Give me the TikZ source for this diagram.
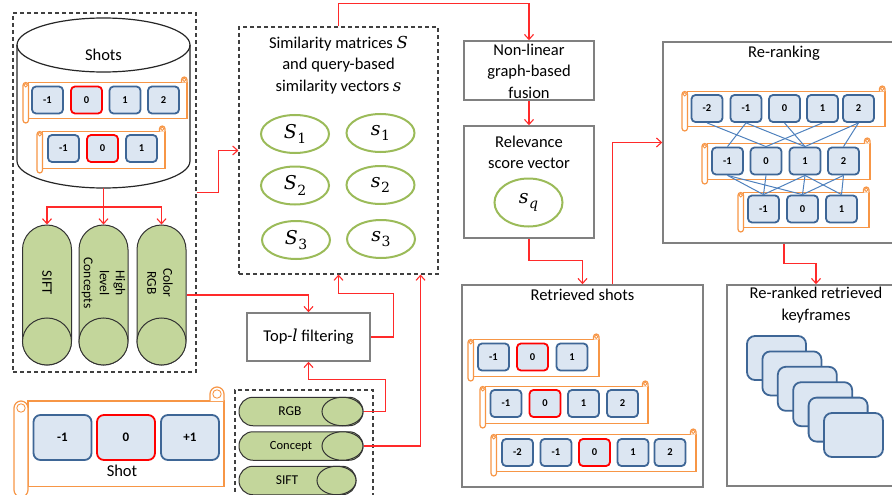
\documentclass[tikz,border=0pt]{standalone}
\usepackage{fontspec}
\setmainfont{Carlito}
\newfontfamily\cmbf{DejaVu Serif}
\usetikzlibrary{arrows.meta,shapes.geometric,calc}
\definecolor{redc}{HTML}{FF2A2A}
\definecolor{orc}{HTML}{F79646}
\definecolor{kfill}{HTML}{DCE6F2}
\definecolor{kblue}{HTML}{3E6696}
\definecolor{grn}{HTML}{9BBB59}
\definecolor{pillg}{HTML}{C3D69B}
\definecolor{gbox}{HTML}{808080}
\definecolor{lblue}{HTML}{4F81BD}
\definecolor{dgray}{HTML}{404040}
\newcommand\mvar[1]{{\cmbf\itshape #1}}
\newcommand\mvs[2]{{\cmbf\itshape #1}\kern0.5pt\raisebox{-0.28em}{\cmbf\fontsize{14}{14}\selectfont #2}}
\tikzset{
  scr/.style={draw=orc, fill=white, line width=1.2pt},
  kb/.style={draw=kblue, fill=kfill, line width=1.8pt, rounded corners=4pt, minimum width=31pt, minimum height=27pt, inner sep=0pt, font=\bfseries\fontsize{10.5}{10.5}\selectfont},
  kbr/.style={kb, draw=red},
  kbig/.style={kb, rounded corners=7pt, minimum width=58pt, minimum height=45pt, font=\bfseries\fontsize{13}{13}\selectfont},
  kbigr/.style={kbig, draw=red},
  ttl/.style={font=\fontsize{16.5}{21.5}\selectfont, align=center, inner sep=0pt},
  dbox/.style={draw=dgray, dashed, dash pattern=on 4pt off 3pt, line width=1.1pt, inner sep=0pt},
  gboxs/.style={draw=gbox, line width=1.5pt, inner sep=0pt},
  ell/.style={ellipse, draw=grn, line width=2pt, inner sep=0pt, minimum width=68pt, minimum height=38pt, font=\fontsize{19}{19}\selectfont},
  vpill/.style={draw=black!80, fill=pillg, line width=1pt, rounded corners=24.5pt, minimum width=49pt, minimum height=140pt, inner sep=0pt},
  hpill/.style={draw=black!80, fill=pillg, line width=1pt, rounded corners=14pt, minimum height=28.5pt, inner sep=0pt},
  pillend/.style={draw=black!80, fill=pillg, line width=1pt},
  ptxt/.style={font=\fontsize{13.5}{16}\selectfont, align=center, inner sep=0pt},
  ra/.style={draw=redc, line width=1.1pt, -{Straight Barb[length=5pt,width=9pt]}},
  bl/.style={draw=lblue, line width=1pt},
  cyl/.style={draw=black!85, line width=1.2pt},
  kf/.style={draw=kblue, fill=kfill, line width=1.8pt, rounded corners=8pt, minimum width=59pt, minimum height=44pt, inner sep=0pt}
}
\newcommand\scrl[5]{%
  \pgfmathsetmacro\rcA{0.5*#5}%
  \pgfmathsetmacro\rcB{0.3*#5}%
  \draw[scr] (#1+#5,#2+#5) rectangle (#3,#4-0.75*#5);
  \draw[scr, rounded corners=\rcA pt] (#1,#4) -- (#1,#2+#5) -- (#1+#5,#2+#5) -- (#1+#5,#4) -- cycle;
  \draw[scr, rounded corners=\rcA pt] (#3-#5,#2+#5) -- (#3-#5,#2) -- (#3,#2) -- (#3,#2+#5);
  \draw[draw=orc, line width=0.9pt] (#1+0.5*#5,#2+1.5*#5) circle[radius=\rcB pt];
  \draw[draw=orc, line width=0.9pt] (#3-0.5*#5,#2+0.5*#5) circle[radius=\rcB pt];
}
\begin{document}
\begin{tikzpicture}[x=1pt,y=-1pt]
\useasboundingbox (0,0) rectangle (892,495);
\clip (0,0) rectangle (892,495);

% ---------- left dashed box with cylinder ----------
\node[dbox, minimum width=183pt, minimum height=359pt] (leftbox) at (104.5,192.5) {};
\draw[cyl, fill=white] (17,45) -- (17,161) arc[start angle=180, end angle=0, x radius=86.5, y radius=27] -- (190,45);
\draw[cyl] (103.5,45) ellipse [x radius=86.5, y radius=27];
\node[ttl] (shots) at (103.5,55) {Shots};
\coordinate (cylbot) at (103.5,188);

\scrl{23}{77}{187}{123}{5.5}
\node[kb]  (c1a) at (47.5,100) {-1};
\node[kbr] (c1b) at (86.5,100) {0};
\node[kb]  (c1c) at (125,100) {1};
\node[kb]  (c1d) at (163.5,100) {2};
\scrl{37}{126}{165}{173}{5.5}
\node[kb]  (c2a) at (63.5,148.5) {-1};
\node[kbr] (c2b) at (102.5,148.5) {0};
\node[kb]  (c2c) at (141.5,148.5) {1};

% vertical pills
\node[vpill] (sift) at (47,295) {};
\draw[pillend] (47,341.5) ellipse [x radius=24.5, y radius=23.5];
\node[vpill] (hlc) at (103.5,295) {};
\draw[pillend] (103.5,341.5) ellipse [x radius=24.5, y radius=23.5];
\node[vpill] (rgbv) at (161.5,295) {};
\draw[pillend] (161.5,341.5) ellipse [x radius=24.5, y radius=23.5];
\node[ptxt, rotate=-90, font=\fontsize{14.5}{16.5}\selectfont] (tsift) at (47,283) {SIFT};
\node[ptxt, rotate=-90] (thlc) at (103.5,283) {High\\level\\Concepts};
\node[ptxt, rotate=-90] (trgbv) at (160,283) {Color\\RGB};

\coordinate (split) at (103.5,207);
\draw[ra] (cylbot) -- (split) -- (hlc.north);
\draw[ra] (split) -| (sift.north);
\draw[ra] (split) -| (rgbv.north);

% ---------- similarity box ----------
\node[dbox, minimum width=199pt, minimum height=247pt] (sim) at (338.5,150.5) {};
\node[ttl] (simt) at (338.5,65) {Similarity matrices \mvar{S}\\and query-based\\similarity vectors \mvar{s}};
\node[ell] (S1) at (295,134) {\mvs{S}{1}};
\node[ell] (s1) at (380.5,133) {\mvs{s}{1}};
\node[ell] (S2) at (295,185.5) {\mvs{S}{2}};
\node[ell] (s2) at (380.5,185) {\mvs{s}{2}};
\node[ell] (S3) at (296,240) {\mvs{S}{3}};
\node[ell] (s3) at (381,239) {\mvs{s}{3}};

\draw[ra] (leftbox.east) -- ++(22,0) |- (sim.west);

% ---------- top-l filtering and pills ----------
\node[gboxs, minimum width=123pt, minimum height=48pt, font=\fontsize{16.5}{20}\selectfont] (topl) at (308.5,337) {Top-\mvar{l} filtering};
\node[dbox, minimum width=138pt, minimum height=130pt] (pbox) at (304,455) {};
\node[hpill, minimum width=124pt] (hrgb) at (301,411.5) {};
\draw[pillend] (342.5,411.5) ellipse [x radius=20.5, y radius=14.25];
\node[ptxt] (thrgb) at (290,411.5) {RGB};
\node[hpill, minimum width=124pt] (hcon) at (301,446) {};
\draw[pillend] (342.5,446) ellipse [x radius=20.5, y radius=14.25];
\node[ptxt, font=\fontsize{12.5}{14}\selectfont] (thcon) at (291,446) {Concept};
\node[hpill, minimum width=117pt] (hsift) at (297.5,480.5) {};
\draw[pillend] (336.5,480.5) ellipse [x radius=19.5, y radius=14.25];
\node[ptxt] (thsift) at (287,480.5) {SIFT};

\draw[ra] (rgbv.east) -| (topl.north);
\draw[ra] (topl.east) -- ++(23,0) |- ($(sim.south)+(0,19)$) -- (sim.south);
\draw[ra] (hrgb.east) -- ++(22,0) |- ($(topl.south)+(0,18)$) -- (topl.south);
\draw[ra] (hcon.east) -| ($(sim.south east)+(-18,0)$);

% ---------- legend ----------
\scrl{14}{387}{224}{497}{14}
\node[kbig]  (l1) at (62.5,437.5) {-1};
\node[kbigr] (l2) at (126,437.5) {0};
\node[kbig]  (l3) at (190,437.5) {+1};
\node[ttl] (shotl) at (122,471) {Shot};

% ---------- fusion column ----------
\node[gboxs, minimum width=130pt, minimum height=59pt] (nl) at (529,70.5) {};
\node[ttl] (nlt) at (529,71) {Non-linear\\graph-based\\fusion};
\node[gboxs, minimum width=130pt, minimum height=112pt] (rel) at (529,182) {};
\node[ttl] (relt) at (529,152.5) {Relevance\\score vector};
\node[ell, minimum height=48pt] (sq) at (528.5,202.5) {\mvs{s}{\itshape q}};

\draw[ra] (sim.north) -- ++(0,-23) -| (nl.north);
\draw[ra] (nl.south) -- (rel.north);

% ---------- retrieved shots ----------
\node[gboxs, minimum width=241pt, minimum height=202pt] (ret) at (582.5,386) {};
\node[ttl] (rett) at (582.5,295) {Retrieved shots};
\draw[ra] (rel.south) -- ++(0,22) -| (ret.north);

\scrl{468}{334}{599}{381}{5.5}
\node[kb]  (t1a) at (493.5,357) {-1};
\node[kbr] (t1b) at (532.5,357) {0};
\node[kb]  (t1c) at (572,357) {1};
\scrl{480}{381}{648}{428}{5.5}
\node[kb]  (t2a) at (506,403.5) {-1};
\node[kbr] (t2b) at (545,403.5) {0};
\node[kb]  (t2c) at (583.5,403.5) {1};
\node[kb]  (t2d) at (622.5,403.5) {2};
\scrl{491}{429}{696}{476}{5.5}
\node[kb]  (t3a) at (517.5,452.5) {-2};
\node[kb]  (t3b) at (556,452.5) {-1};
\node[kbr] (t3c) at (594.5,452.5) {0};
\node[kb]  (t3d) at (633,452.5) {1};
\node[kb]  (t3e) at (670,452.5) {2};

% ---------- re-ranking ----------
\node[gboxs, minimum width=242pt, minimum height=201pt] (rr) at (784,142.5) {};
\node[ttl] (rrt) at (784,53) {Re-ranking};
\draw[ra] ($(ret.north)+(30,0)$) |- (rr.west);

\scrl{682}{86}{885}{131}{5.5}
\node[kb] (r1a) at (707,108.5) {-2};
\node[kb] (r1b) at (746,108.5) {-1};
\node[kb] (r1c) at (784.5,108.5) {0};
\node[kb] (r1d) at (822.5,108.5) {1};
\node[kb] (r1e) at (858.5,108.5) {2};
\scrl{702}{138}{870}{184}{5.5}
\node[kb] (r2a) at (727.5,161) {-1};
\node[kb] (r2b) at (766,161) {0};
\node[kb] (r2c) at (805,161) {1};
\node[kb] (r2d) at (843.5,161) {2};
\scrl{738}{187}{869}{232}{5.5}
\node[kb] (r3a) at (763.5,209) {-1};
\node[kb] (r3b) at (802.5,209) {0};
\node[kb] (r3c) at (841.5,209) {1};

\draw[bl] (r1a.south) -- (r2b.north);
\draw[bl] (r1b.south) -- (r2a.north);
\draw[bl] (r1b.south) -- (r2c.north);
\draw[bl] (r1c.south) -- (r2c.north);
\draw[bl] (r1d.south) -- (r2b.north);
\draw[bl] (r1e.south) -- (r2c.north);
\draw[bl] (r1e.south) -- (r2d.north);
\draw[bl] (r2a.south) -- (r3a.north);
\draw[bl] (r2a.south) -- (r3b.north);
\draw[bl] (r2b.south) -- (r3a.north);
\draw[bl] (r2c.south) -- (r3a.north);
\draw[bl] (r2c.south) -- (r3b.north);
\draw[bl] (r2c.south) -- (r3c.north);
\draw[bl] (r2d.south) -- (r3b.north);
\draw[bl] (r2d.south) -- (r3c.north);

% ---------- re-ranked keyframes ----------
\node[gboxs, minimum width=178pt, minimum height=201pt] (rk) at (816,385.5) {};
\node[ttl] (rkt) at (816,305) {Re-ranked retrieved\\keyframes};
\draw[ra] (rr.south) -- ++(0,20) -| (rk.north);
\node[kf] (k1) at (776.5,358) {};
\node[kf] (k2) at (791.9,373.4) {};
\node[kf] (k3) at (807.3,388.8) {};
\node[kf] (k4) at (822.7,404.2) {};
\node[kf] (k5) at (838.1,419.6) {};
\node[kf] (k6) at (853.5,435) {};
\end{tikzpicture}
\end{document}
